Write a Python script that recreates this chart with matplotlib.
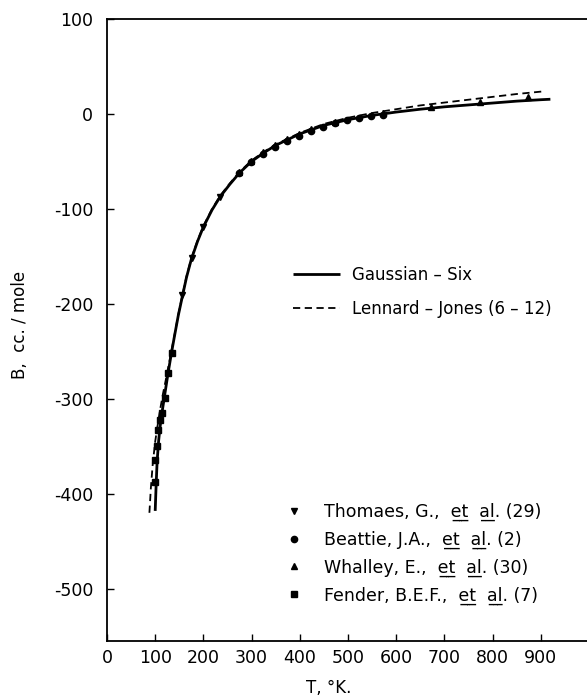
import numpy as np
import matplotlib.pyplot as plt

plt.rcParams['axes.unicode_minus'] = False

# second virial coefficient B (cc/mole) against T (K)
# Gaussian-Six curve
gs_T = [100, 102, 104, 107, 110, 114, 120, 127, 134, 140, 148, 156, 165, 175, 188,
        200, 218, 235, 255, 275, 300, 325, 350, 375, 400, 450, 500, 550, 600, 650,
        700, 750, 800, 850, 900, 920]
gs_B = [-418, -390, -366, -345, -330, -315, -295, -272, -251, -234, -212, -193, -172, -153, -134,
        -119, -101, -87, -74, -62, -50, -41, -33, -27, -21, -12, -6, -1.5, 2, 5,
        7.5, 9.5, 11.5, 13.5, 15, 15.5]

# Lennard-Jones (6-12) curve
lj_T = [88, 91, 95, 100, 105, 110, 116, 122, 130, 140, 148, 156, 165, 175, 188,
        200, 218, 235, 255, 275, 300, 325, 350, 375, 400, 450, 500, 550, 600, 650,
        700, 750, 800, 850, 900, 910]
lj_B = [-420, -394, -368, -345, -328, -312, -295, -280, -259, -233, -211, -192, -171, -152, -133,
        -118, -100, -86, -73, -61, -49, -40, -32, -26, -20, -10.5, -4, 1, 5, 9,
        12, 15, 18, 21, 23.5, 24]

# experimental points
thomaes_T = [156, 176, 199, 234]
thomaes_B = [-191, -152, -119, -87]

beattie_T = [273, 298, 323, 348, 373, 398, 423, 448, 473, 498, 523, 548, 573]
beattie_B = [-62, -51, -42, -35, -28, -23, -18, -14, -10, -6, -4, -2, -1]

whalley_T = [273, 298, 323, 348, 373, 398, 423, 473, 573, 673, 773, 873]
whalley_B = [-61, -50, -40, -33, -26, -21, -16, -8, 1, 7, 12.5, 17.5]

fender_T = [99, 100, 103, 106, 110, 114, 120, 127, 134]
fender_B = [-388, -364, -350, -333, -322, -315, -299, -273, -252]

UL = '\u0332'
etal = 'e' + UL + 't' + UL + '  a' + UL + 'l' + UL

fig = plt.figure(figsize=(5.87, 6.98), dpi=100)
ax = fig.add_axes([107 / 587, 1 - 641 / 698, 480 / 587, 622 / 698])

l1, = ax.plot(gs_T, gs_B, color='black', lw=2.0, solid_capstyle='butt')
l2, = ax.plot(lj_T, lj_B, color='black', lw=1.3, dashes=(4, 2.5))

ms = 5
p1, = ax.plot(thomaes_T, thomaes_B, 'v', color='black', ms=ms, ls='none')
p2, = ax.plot(beattie_T, beattie_B, 'o', color='black', ms=ms - 0.5, ls='none')
p3, = ax.plot(whalley_T, whalley_B, '^', color='black', ms=ms, ls='none')
p4, = ax.plot(fender_T, fender_B, 's', color='black', ms=ms - 0.5, ls='none')

ax.set_xlim(0, 996)
ax.set_ylim(-555, 100)
ax.set_xticks(range(0, 1000, 100))
ax.set_yticks(range(-500, 101, 100))
ax.tick_params(direction='in', length=5, width=1, labelsize=12.5)
ax.tick_params(axis='y', pad=10)
ax.tick_params(axis='x', pad=6)
ax.spines['right'].set_visible(False)
for s in ['left', 'top', 'bottom']:
    ax.spines[s].set_linewidth(1.3)

fig.text(20 / 587, 1 - 325 / 698, 'B,  cc. / mole', rotation=90, ha='center',
         va='center', fontsize=12)
fig.text(329 / 587, 1 - 688 / 698, 'T, °K.', ha='center', va='center', fontsize=12)

leg1 = ax.legend([l1, l2], ['Gaussian – Six', 'Lennard – Jones (6 – 12)'],
                 loc='upper left', bbox_to_anchor=(0.3875, 0.603), frameon=False,
                 fontsize=12, handlelength=2.8, handletextpad=0.75,
                 labelspacing=0.95, borderpad=0, borderaxespad=0)
ax.add_artist(leg1)
ax.legend([p1, p2, p3, p4],
          ['Thomaes, G.,  ' + etal + '. (29)', 'Beattie, J.A.,  ' + etal + '. (2)',
           'Whalley, E.,  ' + etal + '. (30)', 'Fender, B.E.F.,  ' + etal + '. (7)'],
          loc='upper left', bbox_to_anchor=(0.37, 0.222), frameon=False,
          fontsize=12.5, handlelength=1.1, handletextpad=1.15, numpoints=1,
          labelspacing=0.55, borderpad=0, borderaxespad=0)

fig.savefig('out.png', dpi=100)
